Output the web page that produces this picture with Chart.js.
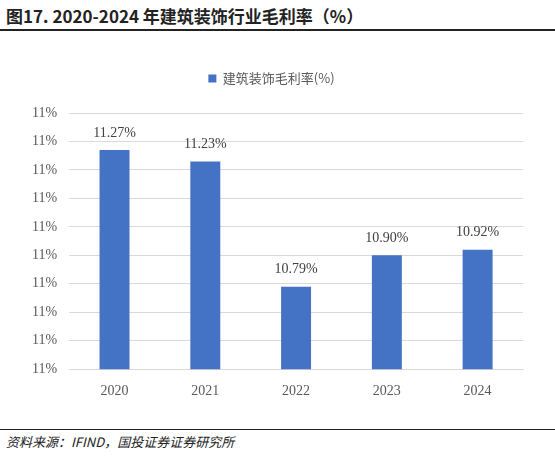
<!DOCTYPE html>
<html><head><meta charset="utf-8">
<script src="https://cdn.jsdelivr.net/npm/chart.js@4/dist/chart.umd.min.js"></script>
<style>
body{margin:0;width:555px;height:456px;background:#fff;font-family:"Noto Sans CJK SC",sans-serif;position:relative;overflow:hidden}
#title{position:absolute;left:6px;top:3px;font-size:17px;font-weight:bold;color:#222}
#tline{position:absolute;left:0;top:29px;width:555px;height:2px;background:#222}
#wrap{position:absolute;left:0;top:52px;width:555px;height:354px}
#bline{position:absolute;left:0;top:429px;width:555px;height:1px;background:#222}
#src{position:absolute;left:6px;top:432px;font-size:13px;font-style:italic;color:#222}
</style></head><body>
<div id="title">图17. 2020-2024 年建筑装饰行业毛利率（%）</div>
<div id="tline"></div>
<div id="wrap"><canvas id="c"></canvas></div>
<div id="bline"></div>
<div id="src">资料来源：IFIND，国投证券证券研究所</div>
<script>
// ==== 数据 ====
const years = ["2020", "2021", "2022", "2023", "2024"];
const margin = [11.27, 11.23, 10.79, 10.90, 10.92];
const seriesName = "建筑装饰毛利率(%)";

const serif = "'Liberation Serif', 'Times New Roman', serif";

// 在柱顶写数值
const valueLabels = {
  id: 'valueLabels',
  afterDatasetsDraw(chart) {
    const ctx = chart.ctx;
    const meta = chart.getDatasetMeta(0);
    ctx.save();
    ctx.font = "14px " + serif;
    ctx.fillStyle = "#404040";
    ctx.textAlign = "center";
    ctx.textBaseline = "bottom";
    meta.data.forEach((bar, i) => {
      ctx.fillText(margin[i].toFixed(2) + "%", bar.x, bar.y - 10);
    });
    ctx.restore();
  }
};

new Chart(document.getElementById('c'), {
  type: 'bar',
  data: {
    labels: years,
    datasets: [{
      label: seriesName,
      data: margin,
      backgroundColor: '#4472C4',
      barPercentage: 0.33,
      categoryPercentage: 1
    }]
  },
  options: {
    responsive: true,
    maintainAspectRatio: false,
    animation: false,
    layout: { padding: { left: 20, right: 32, top: 0, bottom: 0 } },
    plugins: {
      legend: {
        labels: { boxWidth: 8, boxHeight: 8, color: '#595959', font: { size: 13, family: "'Noto Sans CJK SC'" }, padding: 20 }
      },
      tooltip: { enabled: false }
    },
    scales: {
      x: {
        grid: { display: false },
        border: { color: '#d9d9d9' },
        ticks: { color: '#595959', font: { size: 14, family: serif }, padding: 6 }
      },
      y: {
        min: 10.5, max: 11.4,
        afterFit(s) {},
        grid: { color: '#d9d9d9', drawTicks: false },
        border: { display: false },
        ticks: { stepSize: 0.1, color: '#595959', font: { size: 14, family: serif }, padding: 12,
          callback: v => Math.round(v) + "%" }
      }
    }
  },
  plugins: [valueLabels, {
    id: 'legendGap',
    beforeInit(chart) {
      const orig = chart.legend.fit;
      chart.legend.fit = function () { orig.bind(chart.legend)(); this.height += 18; };
    }
  }]
});
</script>
</body></html>
